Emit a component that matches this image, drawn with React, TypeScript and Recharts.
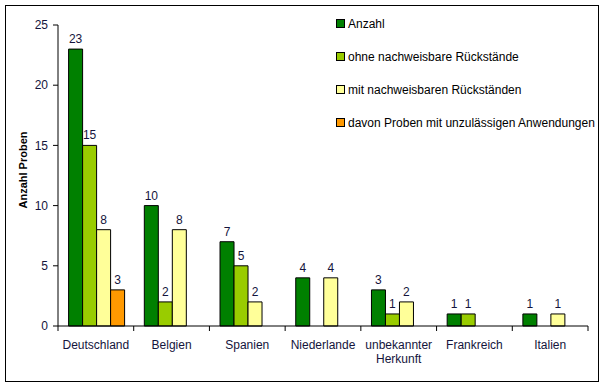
import { BarChart, Bar, XAxis, YAxis, LabelList, Legend } from 'recharts';

const categories = ['Deutschland', 'Belgien', 'Spanien', 'Niederlande', 'unbekannter Herkunft', 'Frankreich', 'Italien'];
const anzahl = [23, 10, 7, 4, 3, 1, 1];
const ohne = [15, 2, 5, null, 1, 1, null];
const mit = [8, 8, 2, 4, 2, null, 1];
const unzulaessig = [3, null, null, null, null, null, null];
const yTicks = [0, 5, 10, 15, 20, 25];

const series = [
  { key: 'anzahl', name: 'Anzahl', color: '#008000' },
  { key: 'ohne', name: 'ohne nachweisbare Rückstände', color: '#99CC00' },
  { key: 'mit', name: 'mit nachweisbaren Rückständen', color: '#FFFF99' },
  { key: 'unz', name: 'davon Proben mit unzulässigen Anwendungen', color: '#FF9900' },
];

const data = categories.map((name, i) => ({
  name,
  anzahl: anzahl[i],
  ohne: ohne[i],
  mit: mit[i],
  unz: unzulaessig[i],
}));

const textColor = '#14143c';
const font = '"Liberation Sans", Arial, sans-serif';

// category label plus the tick marks at the band edges
const CategoryTick = (props: any) => {
  const { x, y, payload, index, width } = props;
  const band = width / categories.length;
  const words = String(payload.value).split(' ');
  const lines = words.length > 1 ? words : [payload.value];
  const left = x - band / 2;
  return (
    <g>
      <line x1={left} y1={y} x2={left} y2={y + 5} stroke="#000" />
      {index === categories.length - 1 && (
        <line x1={x + band / 2} y1={y} x2={x + band / 2} y2={y + 5} stroke="#000" />
      )}
      <text x={x} y={y + 23} textAnchor="middle" fontSize={12} fill={textColor} fontFamily={font}>
        {lines.map((l: string, i: number) => (
          <tspan key={i} x={x} dy={i === 0 ? 0 : 14}>{l}</tspan>
        ))}
      </text>
    </g>
  );
};

const LegendContent = () => (
  <div style={{ fontFamily: font, fontSize: 12, color: '#000' }}>
    {series.map((s) => (
      <div key={s.key} style={{ height: 33, display: 'flex', alignItems: 'center' }}>
        <span style={{ width: 7, height: 7, background: s.color, border: '1px solid #000', marginRight: 3, display: 'inline-block' }} />
        <span>{s.name}</span>
      </div>
    ))}
  </div>
);

export default function App() {
  return (
    <div style={{ position: 'absolute', left: 0, top: 0, width: 606, height: 388, background: '#fff' }}>
      <div style={{ position: 'absolute', left: 5, top: 5, width: 592, height: 375, border: '1px solid #000' }} />
      <div style={{ position: 'absolute', left: 0, top: 0 }}>
        <BarChart
          width={606}
          height={388}
          data={data}
          margin={{ top: 25, right: 18, left: 0, bottom: 0 }}
          barCategoryGap="14%"
          barGap={0}
        >
          <XAxis
            dataKey="name"
            tickLine={false}
            tickSize={0}
            tickMargin={0}
            height={62}
            interval={0}
            stroke="#000"
            tick={<CategoryTick />}
          />
          <YAxis
            domain={[0, 25]}
            ticks={yTicks}
            width={58}
            tickSize={5}
            tickMargin={5}
            stroke="#000"
            tick={{ fill: textColor, fontSize: 12, fontFamily: font }}
            label={{
              content: () => (
                <text
                  transform="translate(23,170) rotate(-90)"
                  textAnchor="middle"
                  dominantBaseline="central"
                  fontSize={11}
                  fontWeight="bold"
                  fontFamily={font}
                  fill="#000"
                >
                  Anzahl Proben
                </text>
              ),
            }}
          />
          <Legend
            layout="vertical"
            align="center"
            verticalAlign="middle"
            content={<LegendContent />}
            wrapperStyle={{ position: 'absolute', left: 336, top: 7, width: 260 }}
          />
          {series.map((s) => (
            <Bar key={s.key} dataKey={s.key} name={s.name} fill={s.color} stroke="#000" strokeWidth={1} isAnimationActive={false}>
              <LabelList dataKey={s.key} position="top" offset={6} fill={textColor} fontSize={12} fontFamily={font} />
            </Bar>
          ))}
        </BarChart>
      </div>
    </div>
  );
}
